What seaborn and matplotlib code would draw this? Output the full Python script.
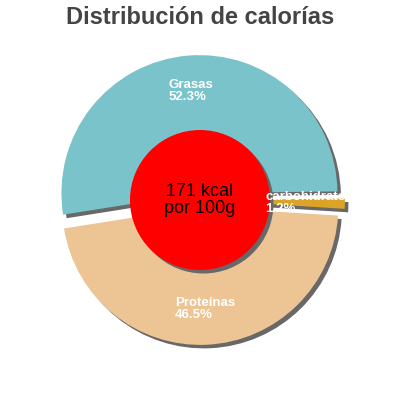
import matplotlib
matplotlib.use("Agg")
import matplotlib.pyplot as plt
import seaborn as sns
from matplotlib.patches import Circle

categories = ["Grasas", "carbohidratos", "Proteínas"]
percentages = [52.3, 1.2, 46.5]
colors = ["#7ac3cb", "#dba427", "#edc493"]
title = "Distribución de calorías"
center_text = "171 kcal\npor 100g"

sns.set_theme(style="white")
plt.rcParams['font.family'] = ['Liberation Sans', 'DejaVu Sans']

fig = plt.figure(figsize=(4, 4), dpi=100)
ax = fig.add_axes([0, 0, 1, 1])
lim = 200 / 138
ax.set_xlim(-lim, lim)
ax.set_ylim(-lim, lim)
ax.set_aspect("equal")
ax.axis("off")

explode = [0.05, 0.05, 0.05]
start = 189
off = 3.5 / 138

# shadow
ax.pie(percentages, explode=explode, colors=["#686868"] * 3, startangle=start,
       counterclock=False, center=(off, -off), radius=1.0,
       wedgeprops=dict(linewidth=0))
ax.add_patch(Circle((off, -off), 70 / 138, color="#686868", lw=0, zorder=3))

labels = [f"{c}\n{p}%" for c, p in zip(categories, percentages)]
wedges, texts = ax.pie(percentages, explode=explode, colors=colors, startangle=start,
                       counterclock=False, center=(0, 0), radius=1.0,
                       labels=labels, labeldistance=0.74,
                       wedgeprops=dict(linewidth=0),
                       textprops=dict(color="white", fontsize=9.5, fontweight="bold",
                                      ha="center", va="center", multialignment="left",
                                      zorder=10, linespacing=1.0))
ax.add_patch(Circle((0, 0), 70 / 138, color="#ff0000", lw=0, zorder=4))
ax.text(0, 0, center_text, ha="center", va="center", fontsize=13, color="black",
        zorder=11, linespacing=1.0)
ax.set_xlim(-lim, lim)
ax.set_ylim(-lim, lim)

fig.text(0.5, 1 - 18 / 400, title, ha="center", va="center", fontsize=17,
         fontweight="bold", color="#444444")

fig.savefig("out.png", dpi=100)
